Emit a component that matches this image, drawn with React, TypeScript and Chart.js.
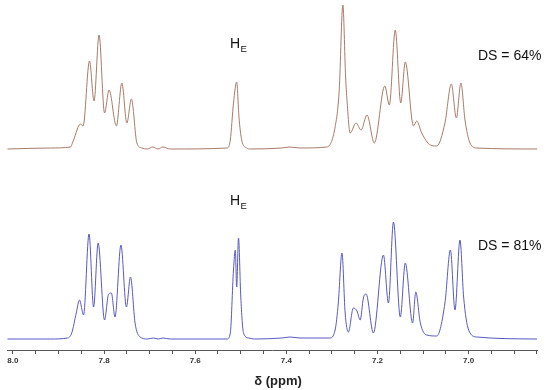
import React, { useEffect, useRef } from "react";
import { Chart, registerables } from "chart.js";

Chart.register(...registerables);

// δ (ppm) and intensity of the upper spectrum (DS = 64%)
const topPpm = [8.012, 7.918, 7.874, 7.867, 7.852, 7.846, 7.832, 7.822, 7.811, 7.799, 7.789, 7.773, 7.761, 7.75, 7.74, 7.728, 7.717, 7.705, 7.693, 7.682, 7.671, 7.655, 7.53, 7.523, 7.516, 7.509, 7.504, 7.498, 7.487, 7.479, 7.41, 7.392, 7.37, 7.311, 7.293, 7.284, 7.276, 7.27, 7.267, 7.26, 7.247, 7.236, 7.223, 7.207, 7.184, 7.174, 7.161, 7.149, 7.139, 7.121, 7.114, 7.103, 7.084, 7.07, 7.052, 7.038, 7.027, 7.017, 7.008, 6.997, 6.982, 6.85];
const topInt = [0, 1, 2, 9, 25, 23, 88, 48, 114, 36, 59, 23, 66, 26, 50, 6, 1, 0, 2, 0, 2, 0, 1, 9, 46, 67, 32, 9, 1, 0, 1, 2, 1, 2, 22, 59, 144, 72, 49, 16, 26, 19, 34, 6, 63, 44, 119, 46, 87, 23, 28, 16, 4, 3, 26, 65, 31, 66, 29, 6, 1, 0];

// δ (ppm) and intensity of the lower spectrum (DS = 81%)
const bottomPpm = [8.012, 7.918, 7.88, 7.871, 7.861, 7.854, 7.845, 7.833, 7.823, 7.813, 7.799, 7.79, 7.784, 7.776, 7.763, 7.751, 7.742, 7.732, 7.721, 7.705, 7.692, 7.681, 7.67, 7.655, 7.53, 7.523, 7.516, 7.512, 7.509, 7.505, 7.5, 7.494, 7.483, 7.47, 7.41, 7.392, 7.37, 7.305, 7.293, 7.286, 7.278, 7.271, 7.264, 7.253, 7.245, 7.238, 7.231, 7.225, 7.209, 7.187, 7.176, 7.165, 7.15, 7.139, 7.123, 7.116, 7.106, 7.092, 7.07, 7.052, 7.04, 7.03, 7.019, 7.011, 7.0, 6.982, 6.85];
const bottomInt = [0, 0, 1, 6, 26, 39, 24, 105, 32, 96, 19, 45, 46, 22, 94, 32, 62, 16, 2, 0, 1, 0, 1, 0, 0, 6, 69, 89, 52, 101, 42, 6, 1, 0, 1, 2, 1, 1, 9, 36, 86, 26, 7, 31, 28, 19, 41, 45, 6, 84, 36, 117, 22, 76, 16, 47, 16, 4, 3, 36, 89, 29, 99, 42, 9, 2, 0];

const xMin = 6.85;
const xMax = 8.013;
const tickStep = 0.05;
const labelStep = 0.2;

const seriesLabels = ["DS = 64%", "DS = 81%"];
const peakLabel = "H";
const peakSub = "E";
const axisTitle = "δ (ppm)";

const FONT = "'Liberation Sans', Arial, sans-serif";

export default function App() {
  const ref = useRef<HTMLCanvasElement | null>(null);

  useEffect(() => {
    if (!ref.current) return;
    const topOffset = 201;
    const bottomOffset = 11;

    const annotations = {
      id: "annotations",
      afterDraw(chart: any) {
        const ctx = chart.ctx;
        const xs = chart.scales.x;
        const ys = chart.scales.y;
        ctx.save();
        ctx.fillStyle = "#111";
        ctx.textBaseline = "alphabetic";
        const drawHE = (baseY: number) => {
          ctx.font = `14px ${FONT}`;
          ctx.textAlign = "left";
          ctx.fillText(peakLabel, 230, baseY);
          const w = ctx.measureText(peakLabel).width;
          ctx.font = `9.5px ${FONT}`;
          ctx.fillText(peakSub, 230 + w + 0.5, baseY + 3.5);
        };
        drawHE(ys.getPixelForValue(topOffset) - 100.7);
        drawHE(ys.getPixelForValue(bottomOffset) - 134);
        ctx.font = `14px ${FONT}`;
        ctx.textAlign = "left";
        ctx.fillText(seriesLabels[0], 478, ys.getPixelForValue(topOffset) - 89);
        ctx.fillText(seriesLabels[1], 478, ys.getPixelForValue(bottomOffset) - 89.5);
        ctx.font = `bold 13px ${FONT}`;
        ctx.textAlign = "center";
        ctx.textBaseline = "middle";
        ctx.fillStyle = "#222";
        ctx.fillText(axisTitle, 278, xs.bottom - 9);
        ctx.restore();
      },
    };

    const chart = new Chart(ref.current, {
      type: "line",
      data: {
        datasets: [
          {
            label: seriesLabels[0],
            data: topPpm.map((p, i) => ({ x: p, y: topInt[i] + topOffset })),
            borderColor: "#a87a68",
            borderWidth: 1,
            pointRadius: 0,
            cubicInterpolationMode: "monotone",
            fill: false,
          },
          {
            label: seriesLabels[1],
            data: bottomPpm.map((p, i) => ({ x: p, y: bottomInt[i] + bottomOffset })),
            borderColor: "#5858c4",
            borderWidth: 1,
            pointRadius: 0,
            cubicInterpolationMode: "monotone",
            fill: false,
          },
        ],
      },
      options: {
        animation: false,
        responsive: false,
        maintainAspectRatio: false,
        layout: { padding: { left: 7, right: 13, top: 0, bottom: 0 } },
        plugins: { legend: { display: false }, tooltip: { enabled: false } },
        scales: {
          x: {
            type: "linear",
            reverse: true,
            min: xMin,
            max: xMax,
            afterFit: (scale: any) => {
              scale.height = 40;
            },
            border: { display: true, color: "#555", width: 1 },
            grid: {
              display: true,
              drawOnChartArea: false,
              drawTicks: true,
              tickLength: 4,
              color: "#555",
            },
            ticks: {
              stepSize: tickStep,
              includeBounds: false,
              autoSkip: false,
              maxRotation: 0,
              padding: 2,
              color: "#333",
              font: { family: FONT, size: 8, weight: "bold" },
              callback: (v: any) => {
                const r = v / labelStep;
                return Math.abs(r - Math.round(r)) < 1e-6 ? Number(v).toFixed(1) : "";
              },
            },
          },
          y: {
            display: false,
            min: 0,
            max: 350,
          },
        },
      },
      plugins: [annotations],
    } as any);

    return () => chart.destroy();
  }, []);

  return (
    <div style={{ position: "fixed", left: 0, top: 0, width: 550, height: 390, background: "#fff" }}>
      <canvas ref={ref} width={550} height={390} style={{ width: 550, height: 390 }} />
    </div>
  );
}
